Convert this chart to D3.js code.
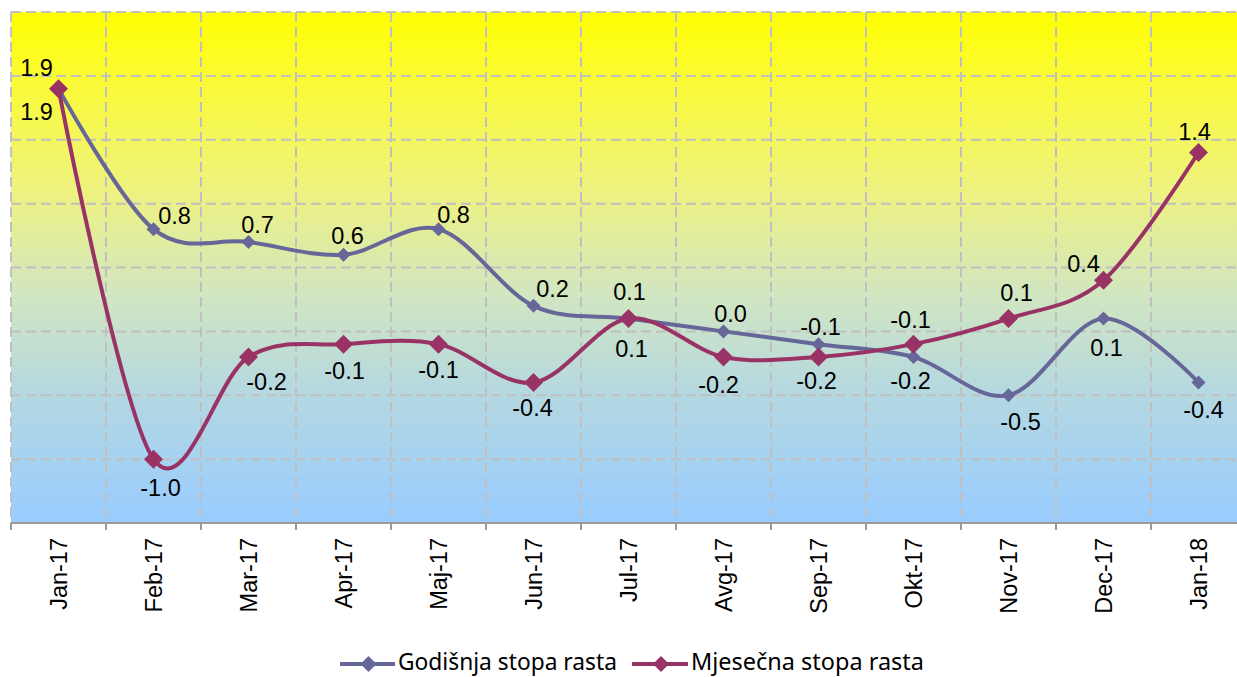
<!DOCTYPE html>
<html>
<head>
<meta charset="utf-8">
<script src="https://cdn.jsdelivr.net/npm/d3@7"></script>
<style>
  html, body { margin: 0; padding: 0; background: #ffffff; }
  svg { display: block; }
</style>
</head>
<body>
<svg id="chart" width="1237" height="677"></svg>
<script>
// ---- data ----
const categories = ["Jan-17","Feb-17","Mar-17","Apr-17","Maj-17","Jun-17","Jul-17","Avg-17","Sep-17","Okt-17","Nov-17","Dec-17","Jan-18"];
const godisnja  = [1.9, 0.8, 0.7, 0.6, 0.8, 0.2, 0.1, 0.0, -0.1, -0.2, -0.5, 0.1, -0.4];
const mjesecna  = [1.9, -1.0, -0.2, -0.1, -0.1, -0.4, 0.1, -0.2, -0.2, -0.1, 0.1, 0.4, 1.4];
const seriesNames = ["Godišnja stopa rasta", "Mjesečna stopa rasta"];
const yTicks = [-1.5, -1.0, -0.5, 0.0, 0.5, 1.0, 1.5, 2.0, 2.5];

// ---- layout (label offsets from point, px) ----
const godLabelOffsets = [[-22,-21],[21,-14],[9,-17],[4,-19],[15,-15],[19,-17],[1,-27],[7,-18],[2,-18],[-3,24],[12,26],[3,29],[5,27]];
const mjeLabelOffsets = [[-22,23],[7,28],[18,25],[1,26],[0,25],[-1,25],[3,30],[-5,28],[-2,24],[-3,-25],[8,-26],[-20,-17],[-4,-21]];

(function () {
const svg = d3.select("#chart");
const pLeft = 11, pTop = 12, pBottom = 523, bandW = 95;
const x = d3.scaleBand().domain(categories).range([pLeft, pLeft + bandW * categories.length]).padding(0);
const y = d3.scaleLinear().domain([-1.5, 2.5]).range([pBottom, pTop]);
const cx = c => x(c) + x.bandwidth() / 2;
const fmt = v => v.toFixed(1);

// background gradient
const defs = svg.append("defs");
const grad = defs.append("linearGradient").attr("id", "bg").attr("x1", 0).attr("y1", 0).attr("x2", 0).attr("y2", 1);
[[0, "#FFFF00"], [0.12, "#FBFB30"], [0.35, "#EEF280"], [0.55, "#D2E6C0"], [0.75, "#B4D8E2"], [1, "#99CCFF"]]
  .forEach(([o, c]) => grad.append("stop").attr("offset", o).attr("stop-color", c));
const plotRight = x.range()[1];
svg.append("rect").attr("x", pLeft).attr("y", pTop).attr("width", plotRight - pLeft).attr("height", pBottom - pTop).attr("fill", "url(#bg)");

// grid
const gridColor = "#C0C0C0";
svg.append("g").selectAll("line").data(yTicks.filter(v => v > -1.5)).join("line")
  .attr("x1", pLeft).attr("x2", plotRight).attr("y1", d => y(d)).attr("y2", d => y(d))
  .attr("stroke", gridColor).attr("stroke-width", 2).attr("stroke-dasharray", "10,5");
svg.append("g").selectAll("line").data(categories).join("line")
  .attr("x1", d => x(d)).attr("x2", d => x(d)).attr("y1", pTop).attr("y2", pBottom)
  .attr("stroke", gridColor).attr("stroke-width", 2).attr("stroke-dasharray", "10,5");

// x axis
const axisG = svg.append("g");
axisG.append("line").attr("x1", pLeft).attr("x2", plotRight).attr("y1", pBottom).attr("y2", pBottom)
  .attr("stroke", "#999999").attr("stroke-width", 2);
axisG.selectAll("line.tick").data(categories).join("line").attr("class", "tick")
  .attr("x1", d => x(d)).attr("x2", d => x(d)).attr("y1", pBottom).attr("y2", pBottom + 7)
  .attr("stroke", "#999999").attr("stroke-width", 2);
axisG.selectAll("text").data(categories).join("text")
  .attr("transform", d => `translate(${cx(d) + 8},538) rotate(-90)`)
  .attr("text-anchor", "end")
  .attr("font-family", "'Liberation Sans', Arial, sans-serif")
  .attr("font-size", 23.5)
  .attr("fill", "#000")
  .text(d => d);

// lines
const line = d3.line().x(d => cx(d.c)).y(d => y(d.v)).curve(d3.curveCardinal.tension(0));
const series = [
  { name: seriesNames[0], values: godisnja, color: "#666699", marker: 7, offs: godLabelOffsets },
  { name: seriesNames[1], values: mjesecna, color: "#993366", marker: 9.5, offs: mjeLabelOffsets }
];
const diamond = (r) => `M0,${-r}L${r},0L0,${r}L${-r},0Z`;

series.forEach(s => {
  const pts = s.values.map((v, i) => ({ c: categories[i], v }));
  svg.append("path").datum(pts).attr("d", line).attr("fill", "none")
    .attr("stroke", s.color).attr("stroke-width", 4).attr("stroke-linejoin", "round");
  svg.append("g").selectAll("path").data(pts).join("path")
    .attr("transform", d => `translate(${cx(d.c)},${y(d.v)})`)
    .attr("d", diamond(s.marker)).attr("fill", s.color);
});

// data labels
series.forEach(s => {
  svg.append("g").selectAll("text").data(s.values).join("text")
    .attr("x", (v, i) => cx(categories[i]) + s.offs[i][0])
    .attr("y", (v, i) => y(v) + s.offs[i][1])
    .attr("dy", "0.36em")
    .attr("text-anchor", "middle")
    .attr("font-family", "'Liberation Sans', Arial, sans-serif")
    .attr("font-size", 23.5)
    .attr("fill", "#000")
    .text(v => fmt(v));
});

// legend
const legend = svg.append("g");
const legendItems = [
  { s: series[0], x0: 340, x1: 395, tx: 398, tw: 219 },
  { s: series[1], x0: 632, x1: 688, tx: 691, tw: 233 }
];
const ly = 664;
legendItems.forEach(it => {
  legend.append("line").attr("x1", it.x0).attr("x2", it.x1).attr("y1", ly).attr("y2", ly)
    .attr("stroke", it.s.color).attr("stroke-width", 4);
  legend.append("path").attr("transform", `translate(${(it.x0 + it.x1) / 2 + 1},${ly})`)
    .attr("d", diamond(8)).attr("fill", it.s.color);
  legend.append("text").attr("x", it.tx).attr("y", 670)
    .attr("font-family", "'Noto Sans', 'Open Sans', sans-serif")
    .attr("font-size", 24)
    .attr("textLength", it.tw).attr("lengthAdjust", "spacingAndGlyphs")
    .attr("fill", "#000")
    .text(it.s.name);
});
})();
</script>
</body>
</html>
